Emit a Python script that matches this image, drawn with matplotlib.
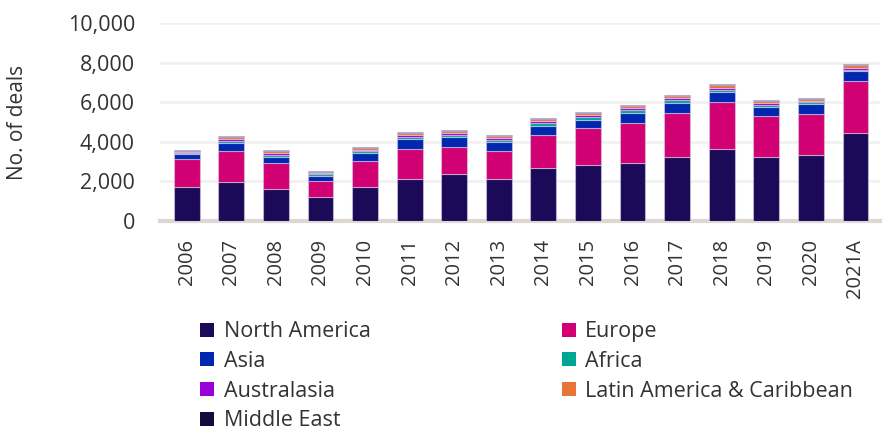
import matplotlib
matplotlib.use('Agg')
import matplotlib.pyplot as plt
from matplotlib.patches import Patch
from matplotlib.ticker import FuncFormatter
import numpy as np

years = ['2006', '2007', '2008', '2009', '2010', '2011', '2012', '2013',
         '2014', '2015', '2016', '2017', '2018', '2019', '2020', '2021A']

north_america = [1730, 1990, 1600, 1230, 1730, 2100, 2370, 2140, 2660, 2850, 2950, 3220, 3620, 3220, 3330, 4460]
europe = [1380, 1560, 1310, 790, 1280, 1520, 1380, 1380, 1670, 1850, 2000, 2240, 2370, 2070, 2070, 2610]
asia = [250, 400, 340, 250, 440, 520, 490, 490, 490, 420, 510, 490, 520, 490, 530, 490]
africa = [70, 90, 100, 80, 90, 100, 110, 100, 120, 140, 140, 140, 130, 90, 60, 60]
australasia = [60, 80, 80, 60, 60, 80, 90, 80, 90, 90, 90, 100, 100, 90, 90, 130]
latin_america = [50, 100, 100, 70, 70, 100, 110, 110, 110, 100, 110, 120, 110, 100, 80, 120]
middle_east = [50, 70, 60, 50, 50, 60, 60, 60, 60, 60, 60, 60, 70, 50, 40, 60]

series = [
    ('North America', north_america, '#1b0a57'),
    ('Europe', europe, '#d10073'),
    ('Asia', asia, '#0027ad'),
    ('Africa', africa, '#00a695'),
    ('Australasia', australasia, '#9a00d8'),
    ('Latin America & Caribbean', latin_america, '#e67537'),
    ('Middle East', middle_east, '#140a3c'),
]

plt.rcParams['font.family'] = ['Open Sans', 'DejaVu Sans']
txt = '#333333'

fig = plt.figure(figsize=(8.84, 4.33), dpi=100)
ax = fig.add_axes([160 / 884, 1 - 221 / 433, 720 / 884, 198 / 433])

x = np.arange(len(years))
bottom = np.zeros(len(years))
for name, vals, col in series:
    ax.bar(x, vals, bottom=bottom, width=0.58, color=col,
           edgecolor=(0.85, 0.8, 0.92, 0.6), linewidth=0.8, label=name, zorder=3)
    bottom += np.array(vals)

ax.set_ylim(0, 10000)
ax.set_xlim(-0.6, len(years) - 0.45)
ax.set_yticks(range(0, 10001, 2000))
ax.yaxis.set_major_formatter(FuncFormatter(lambda v, p: f'{int(v):,}'))
ax.grid(axis='y', color='#f0f0f0', linewidth=1.8, zorder=0)
ax.set_axisbelow(True)
for s in ['top', 'right', 'left']:
    ax.spines[s].set_visible(False)
ax.spines['bottom'].set_color('#ddd8d2')
ax.spines['bottom'].set_linewidth(3)
ax.tick_params(axis='y', length=0, pad=18, labelsize=15.5, labelcolor=txt)
ax.tick_params(axis='x', length=0, pad=13, labelsize=14.5, labelcolor=txt)
ax.set_xticks(x)
ax.set_xticklabels(years, rotation=90)
ax.set_ylabel('No. of deals', fontsize=15, color=txt)
ax.yaxis.set_label_coords(-0.183, 0.5)

# legend column-major: left column then right column
order = [0, 2, 4, 6, 1, 3, 5]
handles = [Patch(facecolor=series[i][2], label=series[i][0]) for i in order]
fig.legend(handles=handles, ncol=2, loc='upper left',
           bbox_to_anchor=(181 / 884, 1 - 302 / 433), frameon=False,
           fontsize=15.5, handlelength=0.63, handleheight=0.63,
           handletextpad=0.45, columnspacing=8.9, labelspacing=0.4,
           labelcolor=txt)

fig.savefig('out.png', dpi=100)
